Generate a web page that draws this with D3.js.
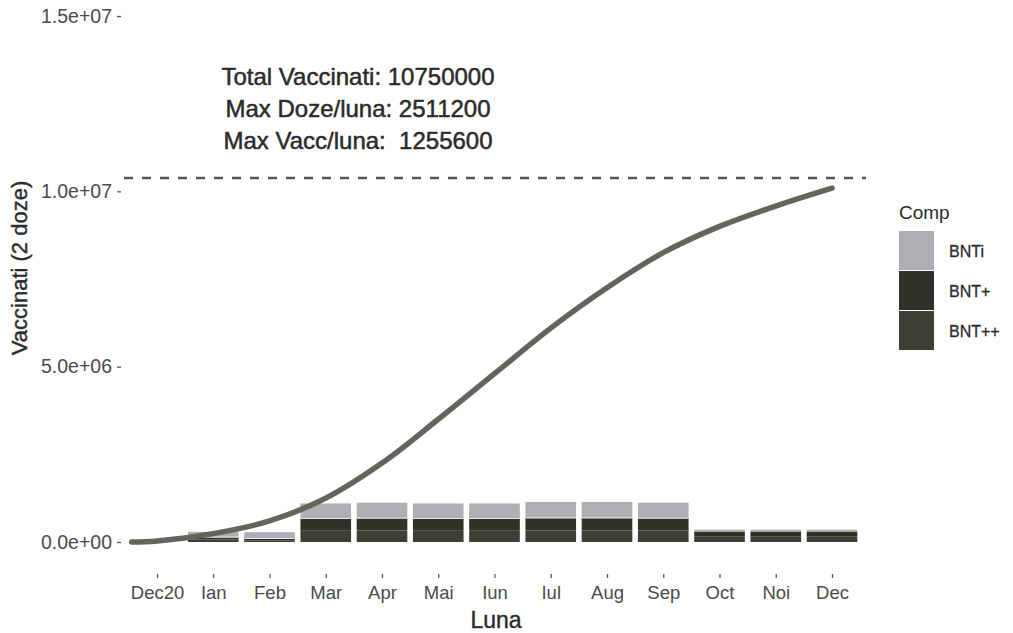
<!DOCTYPE html>
<html>
<head>
<meta charset="utf-8">
<script src="https://cdn.jsdelivr.net/npm/d3@7"></script>
<style>
  html, body { margin: 0; padding: 0; background: #ffffff; }
  svg { display: block; font-family: "Liberation Sans", Arial, Helvetica, sans-serif; }
</style>
</head>
<body>
<svg id="chart" width="1013" height="633"></svg>
<script>
// ---------------- data ----------------
const months = ["Dec20", "Ian", "Feb", "Mar", "Apr", "Mai", "Iun", "Iul", "Aug", "Sep", "Oct", "Noi", "Dec"];
const monthLabels = ["Dec20", "Ian", "Feb", "Mar", "Apr", "Mai", "Iun", "Iul", "Aug", "Sep", "Oct", "Noi", "Dec"];
const components = ["BNTi", "BNT+", "BNT++"];
// vaccinated per month, by component
const bntI  = [0, 150000, 180000, 430000, 440000, 430000, 430000, 450000, 450000, 440000, 60000, 60000, 60000];
const bntP  = [0,  70000,  50000, 350000, 350000, 350000, 350000, 360000, 360000, 350000, 140000, 140000, 140000];
const bntPP = [0,  70000,  50000, 320000, 330000, 320000, 320000, 330000, 330000, 330000, 150000, 150000, 150000];
// cumulative vaccinated curve (month index, value)
const curveIndex = [-0.45, 0, 1, 2, 3, 4, 5, 6, 7, 8, 9, 10, 11, 12];
const curveValue = [0, 30000, 240000, 600000, 1250000, 2250000, 3500000, 4800000, 6100000, 7250000, 8250000, 9000000, 9580000, 10090000];
const targetLine = 10380000;
const annotationLines = ["Total Vaccinati: 10750000", "Max Doze/luna: 2511200", "Max Vacc/luna:  1255600"];
const yTickValues = [0, 5000000, 10000000, 15000000];
const yTickLabels = ["0.0e+00", "5.0e+06", "1.0e+07", "1.5e+07"];
const xTitle = "Luna";
const yTitle = "Vaccinati (2 doze)";
const legendTitle = "Comp";

// ---------------- styles ----------------
const colors = { "BNTi": "#aeafb4", "BNT+": "#2f3229", "BNT++": "#3c4034" };
const lineColor = "#62665a";
const textDark = "#2b2b2b";
const tickText = "#4a4a4a";

const svg = d3.select("#chart");

// scales
const x = d3.scalePoint().domain(months).range([157, 832]);
const step = x.step();
const xi = d3.scaleLinear().domain([0, 12]).range([157, 832]);
const y = d3.scaleLinear().domain([0, 15000000]).range([542, 16]);

// stacked bars
const table = months.map((m, i) => ({ month: m, "BNTi": bntI[i], "BNT+": bntP[i], "BNT++": bntPP[i] }));
const stack = d3.stack().keys(components).order(d3.stackOrderReverse);
const series = stack(table);
const barW = step * 0.9;

svg.append("g").selectAll("g")
  .data(series)
  .join("g")
  .attr("fill", d => colors[d.key])
  .selectAll("rect")
  .data(d => d)
  .join("rect")
  .attr("x", d => x(d.data.month) - barW / 2)
  .attr("width", barW)
  .attr("y", d => y(d[1]))
  .attr("height", d => Math.max(0, y(d[0]) - y(d[1])));

// thin separator at the top of dark section
svg.append("g").selectAll("line")
  .data(table.filter(d => d["BNTi"] > 100000))
  .join("line")
  .attr("x1", d => x(d.month) - barW / 2)
  .attr("x2", d => x(d.month) + barW / 2)
  .attr("y1", d => y(d["BNT+"] + d["BNT++"]))
  .attr("y2", d => y(d["BNT+"] + d["BNT++"]))
  .attr("stroke", "#e6e6e6")
  .attr("stroke-width", 1.2);

// dashed target line
svg.append("line")
  .attr("x1", 124).attr("x2", 866)
  .attr("y1", y(targetLine)).attr("y2", y(targetLine))
  .attr("stroke", "#555555")
  .attr("stroke-width", 2.6)
  .attr("stroke-dasharray", "9,9");

// cumulative curve
const pts = curveIndex.map((c, i) => [xi(c), y(curveValue[i])]);
svg.append("path")
  .datum(pts)
  .attr("fill", "none")
  .attr("stroke", lineColor)
  .attr("stroke-width", 5.5)
  .attr("stroke-linecap", "round")
  .attr("d", d3.line().curve(d3.curveCatmullRom.alpha(0.5)));

// annotation
const ann = svg.append("text")
  .attr("text-anchor", "middle")
  .attr("fill", textDark)
  .attr("stroke", textDark)
  .attr("stroke-width", 0.5)
  .attr("font-size", 24);
annotationLines.forEach((t, i) => {
  ann.append("tspan")
    .attr("x", 358)
    .attr("y", 85 + i * 32)
    .attr("xml:space", "preserve")
    .style("white-space", "pre")
    .text(t);
});

// y axis
const yAxis = d3.axisLeft(y)
  .tickValues(yTickValues)
  .tickFormat((d, i) => yTickLabels[i])
  .tickSize(4)
  .tickPadding(5);
const gy = svg.append("g").attr("transform", "translate(121,0)").call(yAxis);
gy.select(".domain").remove();
gy.selectAll(".tick line").attr("stroke", "#555").attr("stroke-width", 1.3);
gy.selectAll(".tick text").attr("fill", tickText).attr("font-size", 19.5)
  .attr("font-family", "Liberation Sans, Arial, sans-serif");

// x axis
const xAxis = d3.axisBottom(x)
  .tickFormat((d, i) => monthLabels[i])
  .tickSize(4)
  .tickPadding(8);
const gx = svg.append("g").attr("transform", "translate(0,574)").call(xAxis);
gx.select(".domain").remove();
gx.selectAll(".tick line").attr("stroke", "#555").attr("stroke-width", 1.3);
gx.selectAll(".tick text").attr("fill", tickText).attr("font-size", 18.5)
  .attr("font-family", "Liberation Sans, Arial, sans-serif");

// axis titles
svg.append("text")
  .attr("x", 496).attr("y", 628)
  .attr("text-anchor", "middle")
  .attr("fill", textDark)
  .attr("stroke", textDark)
  .attr("stroke-width", 0.4)
  .attr("font-size", 23)
  .text(xTitle);

svg.append("text")
  .attr("transform", "translate(27,268) rotate(-90)")
  .attr("text-anchor", "middle")
  .attr("fill", textDark)
  .attr("stroke", textDark)
  .attr("stroke-width", 0.4)
  .attr("font-size", 22)
  .text(yTitle);

// legend
const lg = svg.append("g").attr("transform", "translate(899,0)");
lg.append("text")
  .attr("x", 0).attr("y", 219)
  .attr("fill", textDark)
  .attr("font-size", 19)
  .text(legendTitle);
const keyH = 40, keyW = 35, keyTop = 231;
components.forEach((c, i) => {
  lg.append("rect")
    .attr("x", 0).attr("y", keyTop + i * keyH)
    .attr("width", keyW).attr("height", keyH - 1)
    .attr("fill", colors[c]);
  lg.append("text")
    .attr("x", 50).attr("y", keyTop + i * keyH + keyH / 2)
    .attr("dy", "0.35em")
    .attr("fill", textDark)
    .attr("stroke", textDark)
    .attr("stroke-width", 0.3)
    .attr("font-size", 16)
    .text(c);
});
</script>
</body>
</html>
